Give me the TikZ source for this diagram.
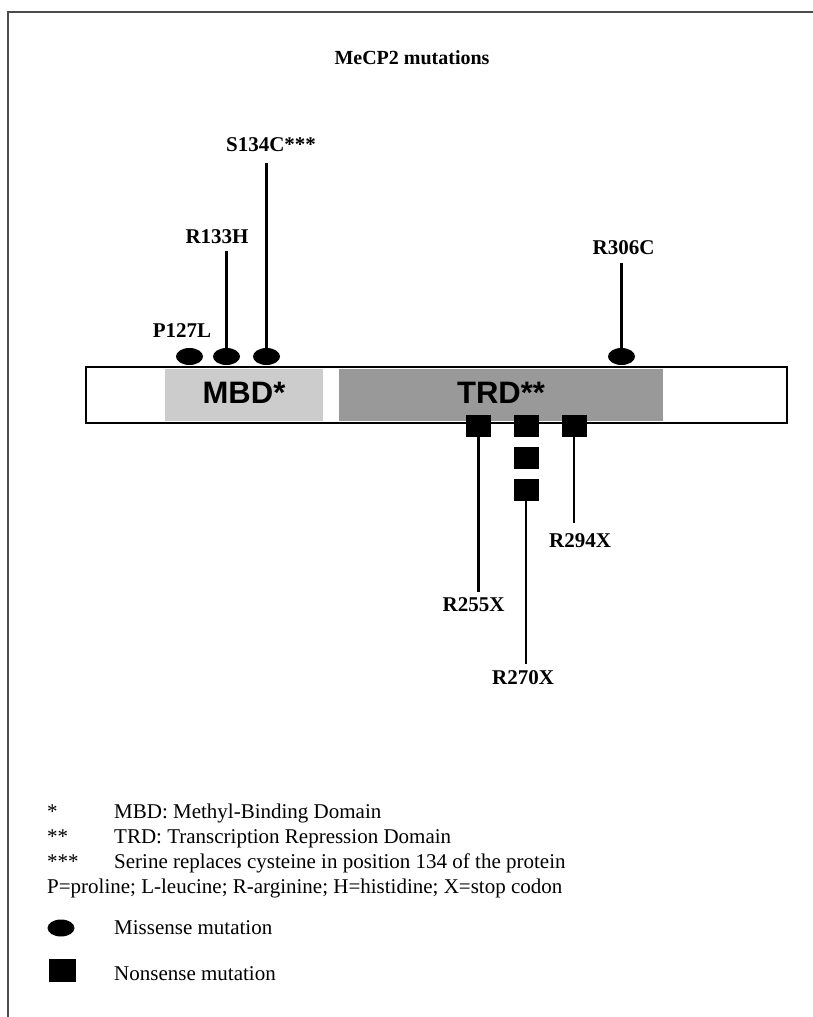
\documentclass[tikz,border=0pt]{standalone}
\usepackage{fontspec}
\setmainfont{Liberation Serif}
\setsansfont{Liberation Sans}
\usetikzlibrary{positioning, shapes.geometric}

\begin{document}
\begin{tikzpicture}[
      x=1pt, y=-1pt,
      font=\fontsize{21}{25}\selectfont,
      node distance=10pt and 10pt,
      frame/.style={draw=black!70, line width=1.5pt},
      bar/.style={draw, fill=white, line width=2.2pt, minimum width=701pt, minimum height=56pt, inner sep=0pt},
      region/.style={minimum height=52pt, inner sep=0pt, font=\fontsize{31}{35}\selectfont\sffamily\bfseries},
      miss/.style={ellipse, fill=black, minimum width=27pt, minimum height=17pt, inner sep=0pt, outer sep=0pt},
      nons/.style={fill=black, minimum width=25pt, minimum height=22pt, inner sep=0pt, outer sep=0pt},
      mut/.style={font=\fontsize{21}{25}\selectfont\bfseries, inner sep=0pt},
      stem/.style={line width=2.5pt},
      note/.style={anchor=base west, inner sep=0pt},
    ]
    \useasboundingbox (0,0) rectangle (813,1017);
    \draw[frame] (8,1017) |- (813,12);

    \node[font=\fontsize{20}{24}\selectfont\bfseries] (title) at (412,58) {MeCP2 mutations};

    % Protein
    \node[bar] (prot) at (436.5,395) {};
    \node[region, fill=black!20, minimum width=158pt] (mbd) at (244,395) {\raisebox{5pt}{MBD*}};
    \node[region, fill=black!40, minimum width=324pt] (trd) at (501,395) {\raisebox{5pt}{TRD**}};

    % Missense mutations
    \node[miss] (m127) at (189.5,356.5) {};
    \node[miss] (m133) at (226.5,356.5) {};
    \node[miss] (m134) at (266.5,356.5) {};
    \node[miss] (m306) at (621.5,356.5) {};

    \node[mut, above=10pt of m127, xshift=-7.5pt] (l127) {P127L};
    \draw[stem] (m133.north) -- ++(0,-97) coordinate (t133);
    \node[mut, above=7pt of t133, xshift=-9.5pt] (l133) {R133H};
    \draw[stem] (m134.north) -- ++(0,-185) coordinate (t134);
    \node[mut, above=11pt of t134, xshift=4.5pt] (l134) {S134C***};
    \draw[stem] (m306.north) -- ++(0,-85) coordinate (t306);
    \node[mut, above=8pt of t306, xshift=2pt] (l306) {R306C};

    % Nonsense mutations
    \node[nons] (n255) at (478.5,426) {};
    \node[nons] (n270a) at (526,426) {};
    \node[nons, below=10pt of n270a] (n270b) {};
    \node[nons, below=10pt of n270b] (n270c) {};
    \node[nons] (n294) at (574,426) {};

    \draw[stem] (n255.south) -- ++(0,155) coordinate (b255);
    \node[mut, below=5pt of b255, xshift=-5pt] (l255) {R255X};
    \draw[stem] (n270c.south) -- ++(0,163) coordinate (b270);
    \node[mut, below=6pt of b270, xshift=-3pt] (l270) {R270X};
    \draw[stem] (n294.south) -- ++(0,86) coordinate (b294);
    \node[mut, below=10pt of b294, xshift=6pt] (l294) {R294X};

    % Legend
    \node[note] (k1) at (47,818) {*};
    \node[note] (t1) at (114,818) {MBD: Methyl-Binding Domain};
    \node[note] (k2) at (47,843) {**};
    \node[note] (t2) at (114,843) {TRD: Transcription Repression Domain};
    \node[note] (k3) at (47,868) {***};
    \node[note] (t3) at (114,868) {Serine replaces cysteine in position 134 of the protein};
    \node[note] (t4) at (47,893) {P=proline; L-leucine; R-arginine; H=histidine; X=stop codon};

    \node[miss] (kmiss) at (61,928) {};
    \node[note] (tmiss) at (114,934) {Missense mutation};
    \node[nons, minimum width=27pt, minimum height=23pt] (knons) at (62.5,970.5) {};
    \node[note] (tnons) at (114,980) {Nonsense mutation};
  \end{tikzpicture}
\end{document}
